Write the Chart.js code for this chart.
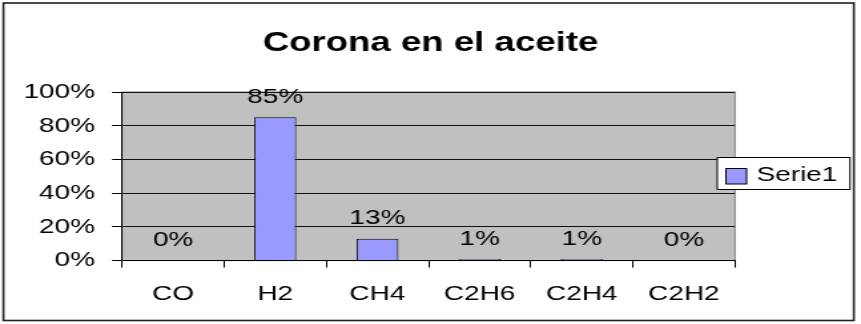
<!DOCTYPE html>
<html>
<head>
<meta charset="utf-8">
<script src="https://cdn.jsdelivr.net/npm/chart.js@4"></script>
<style>
  html, body { margin: 0; padding: 0; background: #fff; overflow: hidden; }
  #wrap { width: 647px; height: 324px; transform: scaleX(1.33076); transform-origin: 0 0; }
</style>
</head>
<body>
<div id="wrap"><canvas id="c" width="647" height="324"></canvas></div>
<script>
// ---- data ----
const categories = ["CO", "H2", "CH4", "C2H6", "C2H4", "C2H2"];
const serie1 = [0, 85, 13, 1, 1, 0];
const seriesLabel = "Serie1";
const yTicks = [0, 20, 40, 60, 80, 100];
const chartTitle = "Corona en el aceite";

const FONT = '"Liberation Sans", Arial, sans-serif';

const bgPlugin = {
  id: 'bgPlugin',
  beforeDraw(chart) {
    const ctx = chart.ctx, a = chart.chartArea;
    ctx.save();
    ctx.fillStyle = '#ffffff';
    ctx.fillRect(0, 0, chart.width, chart.height);
    ctx.strokeStyle = '#222';
    ctx.lineWidth = 1.6;
    ctx.strokeRect(2.6, 3, 639, 317.5);
    ctx.fillStyle = '#C0C0C0';
    ctx.fillRect(a.left, a.top, a.right - a.left, a.bottom - a.top);
    ctx.strokeStyle = '#808080';
    ctx.lineWidth = 1;
    ctx.strokeRect(a.left, a.top, a.right - a.left, a.bottom - a.top);
    ctx.restore();
  }
};

const titleCenter = {
  id: 'titleCenter',
  afterLayout(chart) {
    const t = chart.titleBlock;
    if (t) { t.left = 0; t.right = chart.width; t.width = chart.width; }
  }
};

const valueLabels = {
  id: 'valueLabels',
  afterDatasetsDraw(chart) {
    const ctx = chart.ctx;
    chart.data.datasets.forEach((ds, di) => {
      const meta = chart.getDatasetMeta(di);
      meta.data.forEach((bar, i) => {
        ctx.save();
        ctx.font = '21px ' + FONT;
        ctx.fillStyle = '#000';
        ctx.textAlign = 'center';
        ctx.textBaseline = 'middle';
        ctx.fillText(ds.data[i] + '%', bar.x, bar.y - 20);
        ctx.restore();
      });
    });
  }
};

const customLegend = {
  id: 'customLegend',
  afterDraw(chart) {
    const ctx = chart.ctx;
    const ds = chart.data.datasets[0];
    ctx.save();
    ctx.fillStyle = '#fff';
    ctx.fillRect(539, 157.5, 99.7, 32);
    ctx.strokeStyle = '#000';
    ctx.lineWidth = 1;
    ctx.strokeRect(539, 157.5, 99.7, 32);
    ctx.fillStyle = ds.backgroundColor;
    ctx.fillRect(545.5, 168.5, 15.5, 15.5);
    ctx.strokeStyle = '#000';
    ctx.strokeRect(545.5, 168.5, 15.5, 15.5);
    ctx.fillStyle = '#000';
    ctx.font = '21px ' + FONT;
    ctx.textAlign = 'left';
    ctx.textBaseline = 'middle';
    ctx.fillText(ds.label, 568.5, 175.5);
    ctx.restore();
  }
};

new Chart(document.getElementById('c'), {
  type: 'bar',
  data: {
    labels: categories,
    datasets: [{
      label: seriesLabel,
      data: serie1,
      backgroundColor: '#9999FF',
      borderColor: '#000000',
      borderWidth: 1,
      barPercentage: 0.41,
      categoryPercentage: 1
    }]
  },
  options: {
    responsive: false,
    animation: false,
    devicePixelRatio: 1,
    layout: { padding: { left: 0, right: 94.7, top: 0, bottom: 2.4 } },
    plugins: {
      legend: { display: false },
      tooltip: { enabled: false },
      title: {
        display: true,
        text: chartTitle,
        color: '#000',
        font: { family: FONT, size: 27.5, weight: 'bold' },
        padding: { top: 27, bottom: 32 }
      }
    },
    scales: {
      x: {
        grid: { offset: true, drawOnChartArea: false, drawTicks: true, tickLength: 7, color: '#000' },
        border: { color: '#000', width: 1 },
        ticks: { color: '#000', font: { family: FONT, size: 21 }, padding: 14.4, maxRotation: 0, autoSkip: false }
      },
      y: {
        min: 0,
        max: 100,
        afterFit(scale) { scale.width = 91.7; },
        afterBuildTicks(scale) { scale.ticks = yTicks.map(v => ({ value: v })); },
        grid: { color: '#111', lineWidth: 1, tickLength: 7.5, tickColor: '#000' },
        border: { color: '#000', width: 1 },
        ticks: {
          color: '#000',
          font: { family: FONT, size: 21 },
          padding: 12.8,
          callback: v => v + '%'
        }
      }
    }
  },
  plugins: [bgPlugin, titleCenter, valueLabels, customLegend]
});
</script>
</body>
</html>
